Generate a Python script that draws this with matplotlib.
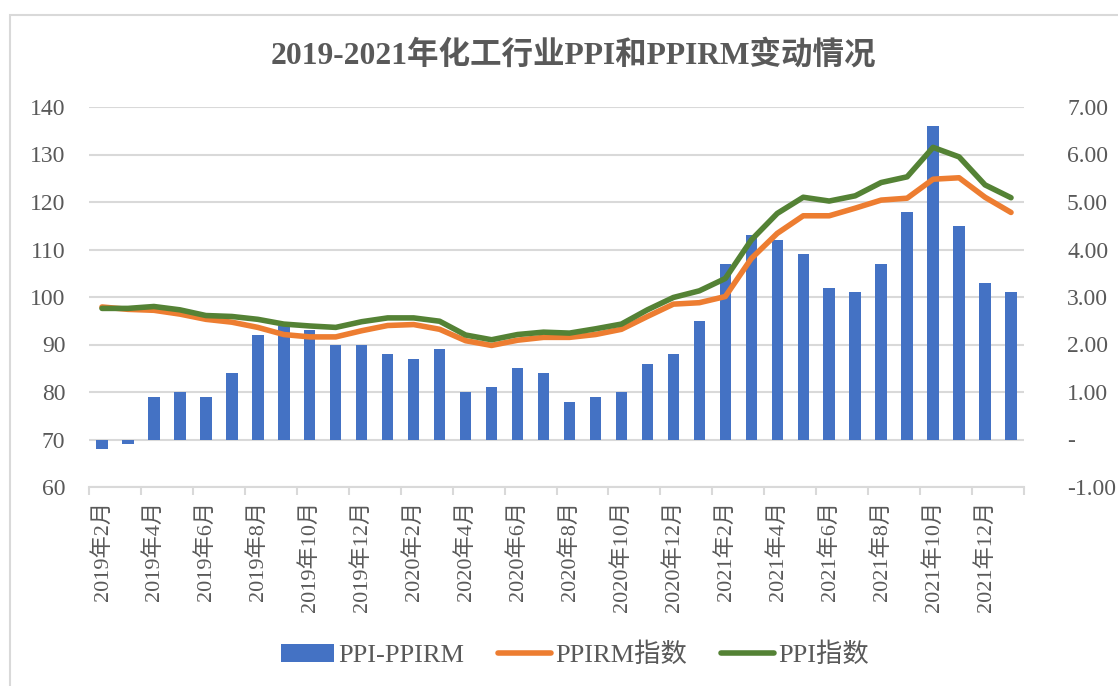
import matplotlib
matplotlib.use('Agg')
import matplotlib.pyplot as plt
from matplotlib.patches import Rectangle
import numpy as np

plt.rcParams['font.family'] = ['Liberation Serif', 'Noto Sans CJK SC']

months = []
for y in [2019, 2020, 2021, 2022]:
    for m in range(1, 13):
        months.append(f'{y}年{m}月')
months = months[1:37]  # 2019年2月 .. 2022年1月

spread = [-0.2, -0.1, 0.9, 1.0, 0.9, 1.4, 2.2, 2.4, 2.3, 2.0, 2.0, 1.8,
          1.7, 1.9, 1.0, 1.1, 1.5, 1.4, 0.8, 0.9, 1.0, 1.6, 1.8, 2.5,
          3.7, 4.3, 4.2, 3.9, 3.2, 3.1, 3.7, 4.8, 6.6, 4.5, 3.3, 3.1]
ppirm = [97.9, 97.4, 97.2, 96.4, 95.3, 94.7, 93.6, 92.1, 91.6, 91.6, 92.9, 94.0,
         94.2, 93.2, 90.8, 89.8, 90.9, 91.5, 91.5, 92.1, 93.2, 95.9, 98.5, 98.8,
         100.1, 108.1, 113.4, 117.1, 117.1, 118.7, 120.4, 120.8, 124.8, 125.1, 121.0, 117.8]
ppi = [97.6, 97.6, 98.0, 97.3, 96.1, 95.9, 95.3, 94.3, 93.9, 93.6, 94.8, 95.6,
       95.6, 94.9, 92.0, 91.0, 92.1, 92.6, 92.4, 93.3, 94.3, 97.3, 99.9, 101.3,
       103.9, 112.0, 117.6, 121.0, 120.2, 121.3, 124.1, 125.3, 131.5, 129.5, 123.6, 120.9]

text_c = '#595959'
grid_c = '#D9D9D9'

fig = plt.figure(figsize=(11.18, 6.86), dpi=100)
fig.add_artist(Rectangle((10 / 1118, -0.1), 1.2, 1.1 - 15 / 686, transform=fig.transFigure,
                         fill=False, edgecolor=grid_c, linewidth=1.5))

ax = fig.add_axes([89 / 1118, 1 - 487 / 686, 935 / 1118, 380 / 686])
ax2 = ax.twinx()

x = np.arange(len(months))
b = ax2.bar(x, spread, width=0.44, color='#4472C4', label='PPI-PPIRM', zorder=2)
l1, = ax.plot(x, ppirm, color='#ED7D31', lw=4, label='PPIRM指数', solid_capstyle='round')
l2, = ax.plot(x, ppi, color='#548235', lw=4, label='PPI指数', solid_capstyle='round')

# lines above bars
ax.set_zorder(ax2.get_zorder() + 1)
ax.patch.set_visible(False)

ax.set_ylim(60, 140)
ax.set_yticks(range(60, 141, 10))
ax2.set_ylim(-1, 7)
ax2.set_yticks(range(-1, 8))
ax2.set_yticklabels(['-1.00', '-', '1.00', '2.00', '3.00', '4.00', '5.00', '6.00', '7.00'])
ax.set_xlim(-0.5, len(months) - 0.5)

for yv in range(60, 141, 10):
    ax2.axhline((yv - 70) / 10, color=grid_c, lw=1.5, zorder=0)

ax.set_xticks(x[::2])
ax.set_xticklabels(months[::2], rotation=90)
ax.set_xticks(np.arange(-0.5, len(months), 2), minor=True)
ax.tick_params(axis='x', which='major', length=0, pad=10, labelsize=16, labelcolor=text_c)
ax.tick_params(axis='x', which='minor', length=6, color=grid_c, width=1.5)
ax.tick_params(axis='y', length=0, pad=17, labelsize=17, labelcolor=text_c)
ax2.tick_params(axis='y', length=0, pad=31, labelsize=17, labelcolor=text_c)

for a in (ax, ax2):
    for s in a.spines.values():
        s.set_visible(False)
ax.spines['bottom'].set_visible(True)
ax.spines['bottom'].set_color(grid_c)
ax.spines['bottom'].set_linewidth(1.5)

fig.text(0.513, 1 - 55 / 686, '2019-2021年化工行业PPI和PPIRM变动情况', ha='center', va='center',
         fontsize=22.7, fontweight='bold', color=text_c)

fig.legend([b, l1, l2], ['PPI-PPIRM', 'PPIRM指数', 'PPI指数'], loc='center',
           bbox_to_anchor=(575 / 1118, 1 - 655 / 686), ncol=3, frameon=False, fontsize=19,
           labelcolor=text_c, handlelength=2.0, handletextpad=0.15, columnspacing=1.3)

fig.savefig('out.png', dpi=100)
